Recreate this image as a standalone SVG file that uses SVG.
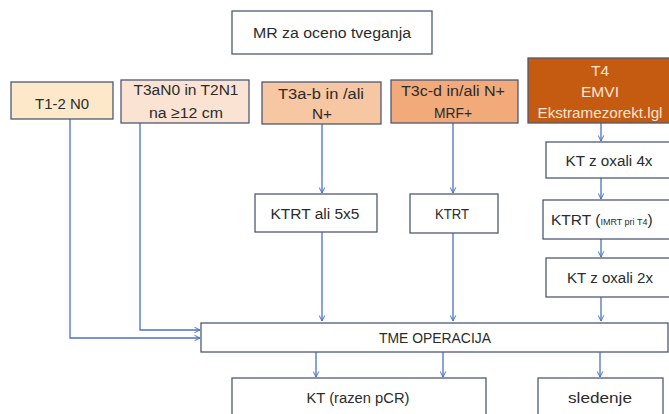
<svg xmlns="http://www.w3.org/2000/svg" width="669" height="414" viewBox="0 0 669 414">
<style>
.box{stroke:#4d5a74;stroke-width:1.3;}
.w{fill:#ffffff;}
.t{font-family:"Liberation Sans","Open Sans",sans-serif;font-size:15.5px;fill:#2b2b2b;text-anchor:middle;}
.tw{fill:#fbe6d6;}
.s{font-size:9px;}
.c{fill:none;stroke:#4a72c4;stroke-width:1.3;}
</style>
<defs>
<marker id="a" viewBox="0 0 10 10" refX="9" refY="5" markerWidth="7" markerHeight="7" orient="auto" markerUnits="userSpaceOnUse">
<path d="M1,1 L9,5 L1,9" fill="none" stroke="#4a72c4" stroke-width="1.4"/>
</marker>
</defs>
<rect width="669" height="414" fill="#ffffff"/>
<g id="connectors" class="c">
<path d="M70,119 V338 H200" marker-end="url(#a)"/>
<path d="M140,123 V330 H200" marker-end="url(#a)"/>
<path d="M322,124 V193" marker-end="url(#a)"/>
<path d="M322,232 V321" marker-end="url(#a)"/>
<path d="M453,123 V193" marker-end="url(#a)"/>
<path d="M453,233 V321" marker-end="url(#a)"/>
<path d="M601,123 V141" marker-end="url(#a)"/>
<path d="M601,178 V199" marker-end="url(#a)"/>
<path d="M601,239 V257" marker-end="url(#a)"/>
<path d="M601,297 V321" marker-end="url(#a)"/>
<path d="M316,352 V377" marker-end="url(#a)"/>
<path d="M443,352 V377" marker-end="url(#a)"/>
<path d="M600,352 V377" marker-end="url(#a)"/>
</g>
<g id="mr">
<rect class="box w" x="232" y="11" width="200" height="43"/>
<text class="t" x="332" y="38" textLength="158" lengthAdjust="spacingAndGlyphs">MR za oceno tveganja</text>
</g>
<g id="t12n0">
<rect class="box" fill="#fde9c9" x="11" y="82" width="102" height="37"/>
<text class="t" x="62" y="109" textLength="54" lengthAdjust="spacingAndGlyphs">T1-2 N0</text>
</g>
<g id="t3an0">
<rect class="box" fill="#fbe3d4" x="121" y="80" width="128" height="43"/>
<text class="t" x="186" y="95" textLength="105" lengthAdjust="spacingAndGlyphs">T3aN0 in T2N1</text>
<text class="t" x="186" y="118" textLength="74" lengthAdjust="spacingAndGlyphs">na ≥12 cm</text>
</g>
<g id="t3ab">
<rect class="box" fill="#f7c6a3" x="262" y="82" width="119" height="42"/>
<text class="t" x="321" y="99" textLength="86" lengthAdjust="spacingAndGlyphs">T3a-b in /ali</text>
<text class="t" x="322" y="119" textLength="20" lengthAdjust="spacingAndGlyphs">N+</text>
</g>
<g id="t3cd">
<rect class="box" fill="#f3aa7b" x="391" y="80" width="127" height="43"/>
<text class="t" x="453" y="96" textLength="104" lengthAdjust="spacingAndGlyphs">T3c-d in/ali N+</text>
<text class="t" x="453" y="118" textLength="38" lengthAdjust="spacingAndGlyphs">MRF+</text>
</g>
<g id="t4">
<rect class="box" fill="#c55a11" stroke="#8a3f0c" x="528" y="58" width="142" height="65"/>
<text class="t tw" x="600" y="76">T4</text>
<text class="t tw" x="600" y="97" textLength="38" lengthAdjust="spacingAndGlyphs">EMVI</text>
<text class="t tw" x="600" y="118" textLength="125" lengthAdjust="spacingAndGlyphs">Ekstramezorekt.lgl</text>
</g>
<g id="ktox4">
<rect class="box w" x="546" y="142" width="124" height="36"/>
<text class="t" x="609" y="166" textLength="87" lengthAdjust="spacingAndGlyphs">KT z oxali 4x</text>
</g>
<g id="ktrt55">
<rect class="box w" x="255" y="194" width="122" height="38"/>
<text class="t" x="315" y="219" textLength="89" lengthAdjust="spacingAndGlyphs">KTRT ali  5x5</text>
</g>
<g id="ktrt">
<rect class="box w" x="410" y="194" width="88" height="39"/>
<text class="t" x="452" y="219" textLength="34" lengthAdjust="spacingAndGlyphs">KTRT</text>
</g>
<g id="ktrtimrt">
<rect class="box w" x="543" y="200" width="127" height="39"/>
<text class="t" x="551" y="225" style="text-anchor:start">KTRT (<tspan class="s">IMRT pri T4</tspan>)</text>
</g>
<g id="ktox2">
<rect class="box w" x="546" y="258" width="124" height="39"/>
<text class="t" x="610" y="283" textLength="86" lengthAdjust="spacingAndGlyphs">KT z oxali 2x</text>
</g>
<g id="tme">
<rect class="box w" x="201" y="323" width="467" height="29"/>
<text class="t" x="435" y="343" textLength="112" lengthAdjust="spacingAndGlyphs">TME OPERACIJA</text>
</g>
<g id="ktrazen">
<rect class="box w" x="232" y="378" width="254" height="44"/>
<text class="t" x="358" y="403" textLength="103" lengthAdjust="spacingAndGlyphs">KT (razen pCR)</text>
</g>
<g id="sledenje">
<rect class="box w" x="538" y="378" width="125" height="44"/>
<text class="t" x="600" y="403" textLength="64" lengthAdjust="spacingAndGlyphs">sledenje</text>
</g>
</svg>
